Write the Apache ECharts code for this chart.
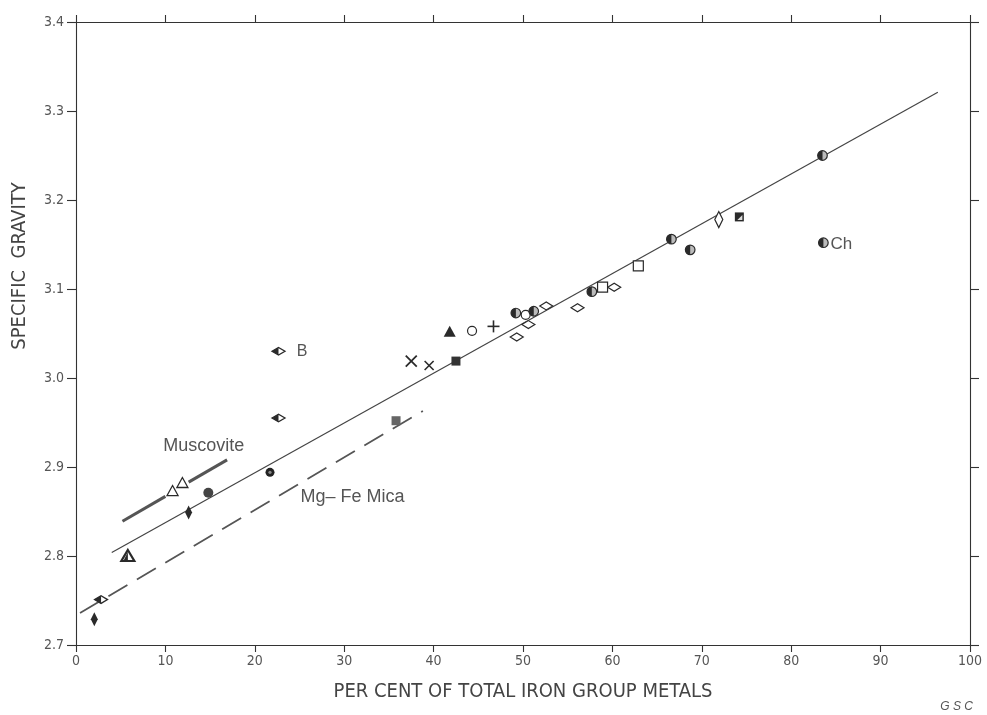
<!DOCTYPE html>
<html>
<head>
<meta charset="utf-8">
<script src="https://cdn.jsdelivr.net/npm/echarts@6/dist/echarts.min.js"></script>
<style>html,body{margin:0;padding:0;background:#fff}#c{width:987px;height:715px}</style>
</head>
<body>
<div id="c"></div>
<script>
// ---- data (x = per cent of total iron group metals, y = specific gravity) ----
const xTicks = [0, 10, 20, 30, 40, 50, 60, 70, 80, 90, 100];
const yTicks = [2.7, 2.8, 2.9, 3.0, 3.1, 3.2, 3.3, 3.4];

const openCircle = [[44.3, 3.053], [50.3, 3.071]];
const filledCircle = [[14.8, 2.871]];
const dotCircle = [[21.7, 2.894]];
const halfCircle = [[49.2, 3.073], [51.2, 3.075], [57.7, 3.097], [66.6, 3.156], [68.7, 3.144], [83.5, 3.250], [83.6, 3.152]];
const filledTriangle = [[41.8, 3.052]];
const openTriangle = [[10.8, 2.873], [11.9, 2.882]];
const heavyTriangle = [[5.8, 2.800]];
const openDiamondH = [[49.3, 3.046], [50.6, 3.060], [52.6, 3.081], [56.1, 3.079], [60.2, 3.102]];
const openDiamondV = [[71.9, 3.178]];
const filledDiamondV = [[2.05, 2.729], [12.6, 2.849]];
const eyeDiamond = [[22.65, 3.030], [22.65, 2.955], [2.8, 2.751]];
const openSquare = [[58.9, 3.102], [62.9, 3.126]];
const darkSquare = [[42.5, 3.019]];
const greySquare = [[35.8, 2.952]];
const halfSquare = [[74.2, 3.181]];
const bigCross = [[37.5, 3.019]];
const smallCross = [[39.5, 3.014]];
const plusMark = [[46.7, 3.058]];

const fitLine = [[4.0, 2.804], [96.4, 3.321]];
const muscoviteLineA = [[5.2, 2.839], [10.0, 2.867]];
const muscoviteLineB = [[12.6, 2.883], [16.9, 2.908]];
const mgFeMicaLine = [[0.45, 2.736], [38.8, 2.963]];

const annotations = [[24.7, 3.030, 'B', 16], [84.4, 3.150, 'Ch', 17], [9.75, 2.923, 'Muscovite', 18], [25.1, 2.866, 'Mg\u2013 Fe Mica', 18]];

// ---- drawing ----
const INK = '#2a2a2a';
function poly(pts, style) { return { type: 'polygon', shape: { points: pts }, style: style }; }
const shapes = {
  openCircle: (x, y) => [{ type: 'circle', shape: { cx: x, cy: y, r: 4.5 }, style: { fill: '#fff', stroke: INK, lineWidth: 1.2 } }],
  filledCircle: (x, y) => [{ type: 'circle', shape: { cx: x, cy: y, r: 5 }, style: { fill: '#444' } }],
  dotCircle: (x, y) => [{ type: 'circle', shape: { cx: x, cy: y, r: 4.5 }, style: { fill: '#222' } },
                        { type: 'circle', shape: { cx: x, cy: y, r: 1.6 }, style: { fill: '#888' } }],
  halfCircle: (x, y) => [{ type: 'circle', shape: { cx: x, cy: y, r: 4.8 }, style: { fill: '#bbb', stroke: INK, lineWidth: 1.2 } },
                         { type: 'sector', shape: { cx: x, cy: y, r0: 0, r: 4.8, startAngle: Math.PI / 2, endAngle: Math.PI * 1.5, clockwise: true }, style: { fill: INK } }],
  filledTriangle: (x, y) => [poly([[x, y - 6], [x + 6, y + 5], [x - 6, y + 5]], { fill: INK })],
  openTriangle: (x, y) => [poly([[x, y - 5.5], [x + 5.5, y + 4.5], [x - 5.5, y + 4.5]], { fill: '#fff', stroke: INK, lineWidth: 1.3 })],
  heavyTriangle: (x, y) => [poly([[x, y - 6], [x + 6.5, y + 5], [x - 6.5, y + 5]], { fill: '#fff', stroke: INK, lineWidth: 2.2 }),
                            poly([[x, y - 4], [x, y + 4], [x - 4, y + 4]], { fill: INK })],
  openDiamondH: (x, y) => [poly([[x - 6.5, y], [x, y - 4], [x + 6.5, y], [x, y + 4]], { fill: '#fff', stroke: INK, lineWidth: 1.2 })],
  openDiamondV: (x, y) => [poly([[x, y - 8], [x + 4, y], [x, y + 8], [x - 4, y]], { fill: '#fff', stroke: INK, lineWidth: 1.2 })],
  filledDiamondV: (x, y) => [poly([[x, y - 7], [x + 3.5, y], [x, y + 7], [x - 3.5, y]], { fill: INK })],
  eyeDiamond: (x, y) => [poly([[x - 6.5, y], [x, y - 3.8], [x + 6.5, y], [x, y + 3.8]], { fill: '#fff', stroke: INK, lineWidth: 1.3 }),
                         poly([[x - 6.5, y], [x, y - 3.8], [x, y + 3.8]], { fill: INK })],
  openSquare: (x, y) => [{ type: 'rect', shape: { x: x - 5, y: y - 5, width: 10, height: 10 }, style: { fill: '#fff', stroke: INK, lineWidth: 1.2 } }],
  darkSquare: (x, y) => [{ type: 'rect', shape: { x: x - 4.5, y: y - 4.5, width: 9, height: 9 }, style: { fill: '#333' } }],
  greySquare: (x, y) => [{ type: 'rect', shape: { x: x - 4.5, y: y - 4.5, width: 9, height: 9 }, style: { fill: '#666' } }],
  halfSquare: (x, y) => [{ type: 'rect', shape: { x: x - 4.5, y: y - 4.5, width: 9, height: 9 }, style: { fill: INK } },
                         poly([[x + 3, y - 2], [x + 3, y + 3], [x - 2, y + 3]], { fill: '#ddd' })],
  bigCross: (x, y) => [{ type: 'line', shape: { x1: x - 5.5, y1: y - 5.5, x2: x + 5.5, y2: y + 5.5 }, style: { stroke: INK, lineWidth: 1.8 } },
                       { type: 'line', shape: { x1: x - 5.5, y1: y + 5.5, x2: x + 5.5, y2: y - 5.5 }, style: { stroke: INK, lineWidth: 1.8 } }],
  smallCross: (x, y) => [{ type: 'line', shape: { x1: x - 4.5, y1: y - 4.5, x2: x + 4.5, y2: y + 4.5 }, style: { stroke: INK, lineWidth: 1.6 } },
                         { type: 'line', shape: { x1: x - 4.5, y1: y + 4.5, x2: x + 4.5, y2: y - 4.5 }, style: { stroke: INK, lineWidth: 1.6 } }],
  plusMark: (x, y) => [{ type: 'line', shape: { x1: x - 6, y1: y, x2: x + 6, y2: y }, style: { stroke: INK, lineWidth: 1.6 } },
                       { type: 'line', shape: { x1: x, y1: y - 6, x2: x, y2: y + 6 }, style: { stroke: INK, lineWidth: 1.6 } }]
};
const markerSets = { openCircle, filledCircle, dotCircle, halfCircle, filledTriangle, openTriangle, heavyTriangle,
  openDiamondH, openDiamondV, filledDiamondV, eyeDiamond, openSquare, darkSquare, greySquare, halfSquare,
  bigCross, smallCross, plusMark };

const series = [];
function lineSeries(data, opts) {
  series.push(Object.assign({ type: 'line', data: data, symbol: 'none', silent: true, z: 2,
    lineStyle: { color: '#444', width: 1.2 } }, opts));
}
lineSeries(fitLine, {});
lineSeries(muscoviteLineA, { lineStyle: { color: '#555', width: 3 } });
lineSeries(muscoviteLineB, { lineStyle: { color: '#555', width: 3 } });
lineSeries(mgFeMicaLine, { lineStyle: { color: '#555', width: 1.8, type: [22, 11] } });

Object.keys(markerSets).forEach(function (name) {
  series.push({
    type: 'custom', name: name, data: markerSets[name], z: 5, silent: true,
    encode: { x: 0, y: 1 },
    renderItem: function (params, api) {
      const p = api.coord([api.value(0), api.value(1)]);
      return { type: 'group', children: shapes[name](p[0], p[1]) };
    }
  });
});

series.push({
  type: 'custom', name: 'annotations', data: annotations, z: 6, silent: true,
  encode: { x: 0, y: 1 },
  renderItem: function (params, api) {
    const a = annotations[params.dataIndex];
    const p = api.coord([a[0], a[1]]);
    return { type: 'text', x: p[0], y: p[1], style: { text: a[2],
      fill: '#555', font: a[3] + 'px "Liberation Sans", Arial, sans-serif', verticalAlign: 'middle', align: 'left' } };
  }
});

const COND = '"DejaVu Sans Condensed", "Liberation Sans", sans-serif';
const labelFont = { color: '#555', fontFamily: COND, fontSize: 14 };
const axisLineStyle = { color: '#333', width: 1.1 };
function xAxisDef(pos, show) {
  return { type: 'value', position: pos, min: xTicks[0], max: xTicks[xTicks.length - 1], interval: 10,
    axisLine: { show: true, onZero: false, lineStyle: axisLineStyle },
    axisTick: { show: true, inside: false, length: 7, lineStyle: axisLineStyle },
    splitLine: { show: false },
    axisLabel: Object.assign({ show: show, margin: 9 }, labelFont),
    name: show ? 'PER CENT OF TOTAL IRON GROUP METALS' : '', nameLocation: 'middle', nameGap: 37,
    nameTextStyle: { color: '#444', fontFamily: COND, fontSize: 20 } };
}
function yAxisDef(pos, show) {
  return { type: 'value', position: pos, min: yTicks[0], max: yTicks[yTicks.length - 1], interval: 0.1,
    axisLine: { show: true, onZero: false, lineStyle: axisLineStyle },
    axisTick: { show: true, inside: false, length: 9, lineStyle: axisLineStyle },
    splitLine: { show: false },
    axisLabel: Object.assign({ show: show, margin: 12, formatter: v => v.toFixed(1) }, labelFont) };
}

const chart = echarts.init(document.getElementById('c'), null, { renderer: 'canvas' });
chart.setOption({
  animation: false,
  backgroundColor: '#fff',
  grid: { left: 76, right: 17, top: 22, bottom: 70, containLabel: false },
  xAxis: [xAxisDef('bottom', true), xAxisDef('top', false)],
  yAxis: [yAxisDef('left', true), yAxisDef('right', false)],
  graphic: [
    { type: 'text', x: 20, y: 266, rotation: Math.PI / 2,
      style: { text: 'SPECIFIC  GRAVITY', fill: '#444', font: '20px ' + COND, align: 'center', verticalAlign: 'middle' } },
    { type: 'text', right: 14, bottom: 2, style: { text: 'G S C', fill: '#555',
      font: 'italic 12px "Liberation Sans", Arial, sans-serif' } }],
  series: series
});
</script>
</body>
</html>
